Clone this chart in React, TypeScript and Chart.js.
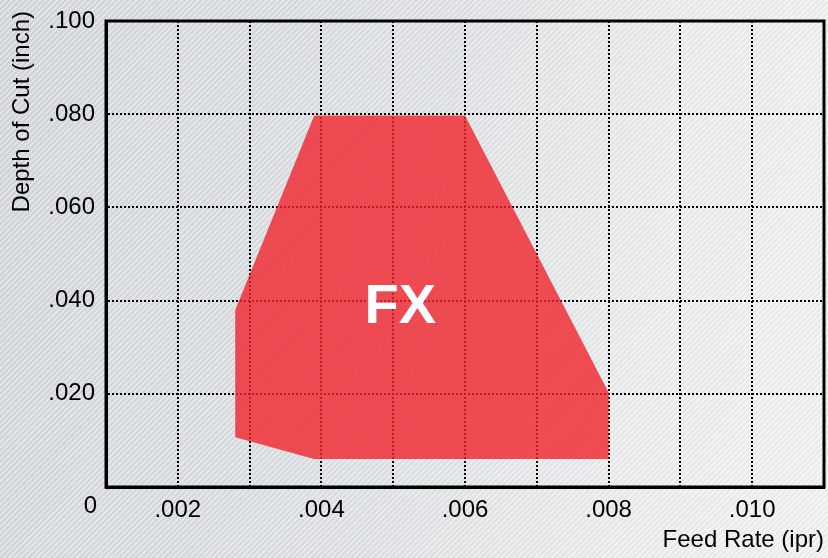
import React, { useEffect, useRef } from 'react';
import { Chart, registerables } from 'chart.js';

Chart.register(...registerables);

// Operating region polygon (feed rate in ipr, depth of cut in inch)
const feedRate = [0.0028, 0.0039, 0.006, 0.008, 0.008, 0.0039, 0.0028];
const depthOfCut = [0.038, 0.0797, 0.0797, 0.0203, 0.006, 0.006, 0.0107];

const regionLabel = 'FX';
const regionLabelX = 0.0051;
const regionLabelY = 0.0384;

const xMin = 0.001;
const xMax = 0.011;
const xStep = 0.001;
const yMin = 0;
const yMax = 0.1;
const yStep = 0.02;

const xTitle = 'Feed Rate (ipr)';
const yTitle = 'Depth of Cut (inch)';
const originLabel = '0';

const FONT = '"Liberation Sans", Arial, Helvetica, sans-serif';

const fmt = (n: number) => '.' + String(n).padStart(3, '0');

const overlayPlugin = {
  id: 'overlay',
  afterDatasetsDraw(chart: any) {
    const { ctx, chartArea, scales } = chart;
    const { left, top, right, bottom } = chartArea;
    const x = scales.x;
    const y = scales.y;
    ctx.save();
    ctx.setLineDash([]);
    ctx.lineWidth = 3;
    ctx.strokeStyle = '#000';
    ctx.strokeRect(left, top, right - left, bottom - top);
    ctx.fillStyle = '#fff';
    ctx.font = 'bold 56px ' + FONT;
    ctx.textAlign = 'center';
    ctx.textBaseline = 'middle';
    ctx.fillText(regionLabel, x.getPixelForValue(regionLabelX), y.getPixelForValue(regionLabelY));
    ctx.fillStyle = '#000';
    ctx.font = '24px ' + FONT;
    ctx.textAlign = 'right';
    ctx.fillText(originLabel, left - 9, y.getPixelForValue(0) + 19);
    ctx.translate(22, top - 10);
    ctx.rotate(-Math.PI / 2);
    ctx.textAlign = 'right';
    ctx.textBaseline = 'middle';
    ctx.fillText(yTitle, 0, 0);
    ctx.restore();
  },
};

export default function App() {
  const canvasRef = useRef<HTMLCanvasElement | null>(null);

  useEffect(() => {
    const canvas = canvasRef.current;
    if (!canvas) return;
    const points = feedRate.map((fx, i) => ({ x: fx, y: depthOfCut[i] }));
    const chart = new Chart(canvas, {
      type: 'scatter',
      data: {
        datasets: [
          {
            data: points,
            showLine: true,
            fill: 'shape',
            backgroundColor: 'rgba(240,35,45,0.8)',
            borderColor: 'rgba(0,0,0,0)',
            borderWidth: 0,
            pointRadius: 0,
            tension: 0,
          } as any,
        ],
      },
      options: {
        responsive: false,
        animation: false,
        layout: { padding: { top: 21, right: 4, left: 0, bottom: 0 } },
        plugins: {
          legend: { display: false },
          tooltip: { enabled: false },
        },
        scales: {
          x: {
            type: 'linear',
            min: xMin,
            max: xMax,
            afterFit: (s: any) => {
              s.height = 71;
              s.paddingLeft = 0;
              s.paddingRight = 0;
            },
            ticks: {
              stepSize: xStep,
              autoSkip: false,
              maxRotation: 0,
              padding: 9,
              color: '#000',
              font: { family: FONT, size: 24 },
              callback: (v: any) => {
                const n = Math.round(Number(v) * 1000);
                return n % 2 === 0 ? fmt(n) : '';
              },
            },
            grid: { color: '#000', lineWidth: 2, drawTicks: false },
            border: { display: true, color: '#000', width: 3, dash: [2, 2] },
            title: {
              display: true,
              text: xTitle,
              align: 'end',
              color: '#000',
              font: { family: FONT, size: 24 },
              padding: { top: 0, bottom: 3 },
            },
          },
          y: {
            type: 'linear',
            min: yMin,
            max: yMax,
            afterFit: (s: any) => {
              s.width = 106;
              s.paddingTop = 0;
              s.paddingBottom = 0;
            },
            ticks: {
              stepSize: yStep,
              padding: 11,
              color: '#000',
              font: { family: FONT, size: 24 },
              callback: (v: any) => {
                const n = Math.round(Number(v) * 1000);
                return n === 0 ? '' : fmt(n);
              },
            },
            grid: { color: '#000', lineWidth: 2, drawTicks: false },
            border: { display: true, color: '#000', width: 3, dash: [2, 2] },
          },
        },
      } as any,
      plugins: [overlayPlugin],
    });
    return () => chart.destroy();
  }, []);

  return (
    <div
      style={{
        position: 'fixed',
        left: 0,
        top: 0,
        width: 828,
        height: 558,
        backgroundColor: '#dfe2e4',
        backgroundImage:
          'repeating-linear-gradient(135deg, rgba(255,255,255,0.35) 0px, rgba(255,255,255,0.35) 1px, rgba(0,0,0,0.035) 2px, rgba(0,0,0,0.0) 4px), linear-gradient(100deg, #d3d8db 0%, #dde1e3 45%, #eceeee 80%, #f1f1f1 100%)',
      }}
    >
      <canvas ref={canvasRef} width={828} height={558} style={{ display: 'block' }} />
    </div>
  );
}
